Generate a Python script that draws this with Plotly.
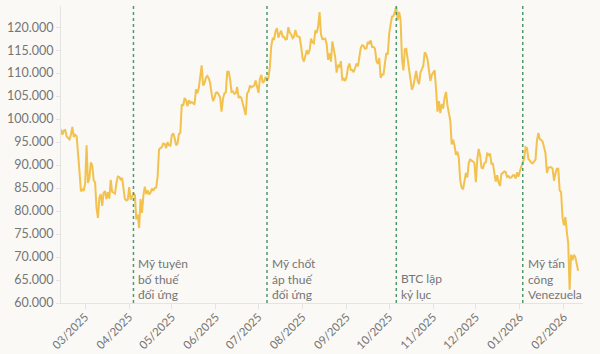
import pandas as pd
import plotly.graph_objects as go

# Daily BTC price (thousand USD), 2025-02-12 .. 2026-02-11
feb25 = [97.8, 96.6, 97.5, 97.6, 96.2, 95.8, 95.6, 96.6, 98.3, 96.1, 96.6, 96.3, 91.4, 88.7, 84.3, 84.7, 84.4]
mar25 = [86.0, 94.3, 86.1, 87.2, 90.6, 89.9, 86.7, 86.2, 80.7, 78.5, 82.9, 83.7, 81.1, 84.0, 84.3, 82.6,
         84.1, 82.7, 86.8, 84.2, 84.0, 83.8, 86.1, 87.5, 87.4, 86.9, 87.2, 84.4, 82.6, 82.3, 82.5]
apr25 = [85.2, 82.5, 83.1, 83.8, 83.5, 78.2, 79.2, 76.3, 82.6, 79.6, 83.4, 85.3, 83.7, 84.5, 83.6, 84.0,
         84.9, 84.4, 85.0, 85.1, 87.5, 93.4, 93.7, 93.9, 94.7, 94.6, 93.7, 95.0, 94.3, 94.2]
may25 = [96.5, 96.9, 95.9, 94.3, 94.7, 96.8, 97.0, 103.2, 102.9, 104.6, 104.1, 102.8, 104.1, 103.5, 103.7, 103.5,
         103.2, 106.5, 105.6, 106.8, 109.7, 111.7, 107.3, 107.8, 109.0, 109.4, 108.9, 107.8, 105.6, 103.9, 104.6]
jun25 = [105.7, 105.8, 105.4, 104.7, 101.6, 104.4, 105.6, 105.8, 110.3, 110.3, 108.7, 105.9, 106.0, 105.5, 105.6,
         107.0, 104.6, 104.9, 104.6, 103.3, 102.1, 100.9, 105.6, 106.0, 107.3, 106.9, 107.1, 107.3, 108.4, 107.1]
jul25 = [105.7, 108.8, 109.6, 107.9, 108.2, 109.2, 108.3, 109.0, 111.3, 115.9, 117.5, 117.4, 119.1, 119.8, 117.7,
         118.6, 119.2, 117.9, 117.9, 117.3, 117.4, 120.0, 118.8, 118.4, 117.6, 117.9, 119.4, 118.1, 117.9, 117.8, 115.8]
aug25 = [113.3, 112.5, 114.2, 115.0, 114.1, 115.0, 117.5, 116.7, 116.5, 119.3, 118.7, 120.2, 123.3, 118.4, 117.4,
         117.5, 117.5, 116.3, 112.9, 114.3, 112.5, 116.9, 115.4, 113.5, 110.1, 111.8, 111.3, 112.6, 108.4, 108.8, 108.3]
sep25 = [109.2, 111.2, 112.1, 110.7, 110.7, 110.2, 111.2, 112.1, 111.5, 113.9, 115.5, 116.1, 115.9, 115.3, 115.4,
         116.8, 116.5, 117.1, 115.7, 115.7, 115.3, 112.7, 112.0, 113.3, 109.0, 109.7, 109.7, 112.1, 114.4, 114.0]
oct25 = [118.6, 120.6, 122.3, 122.4, 123.5, 124.4, 121.5, 123.3, 121.7, 113.2, 110.6, 115.2, 115.3, 113.0, 110.8,
         108.2, 106.4, 107.2, 108.6, 110.5, 108.4, 107.6, 110.1, 111.1, 111.6, 114.5, 114.1, 112.9, 110.1, 108.3, 109.6]
nov25 = [110.1, 110.6, 106.5, 101.6, 103.9, 101.3, 103.3, 102.3, 104.7, 105.9, 103.0, 101.6, 99.7, 94.5, 95.5,
         94.2, 92.2, 92.9, 91.5, 86.6, 85.1, 84.7, 86.8, 88.3, 87.3, 90.5, 91.3, 90.9, 90.8, 90.4]
dec25 = [86.3, 91.3, 93.5, 92.1, 89.4, 89.3, 90.4, 90.6, 92.7, 92.0, 92.5, 90.3, 90.3, 88.2, 86.4, 87.8, 86.2,
         85.5, 88.1, 88.3, 88.6, 88.5, 87.4, 87.6, 87.2, 87.3, 87.8, 87.8, 87.1, 88.4, 87.5]
jan26 = [88.7, 89.9, 90.6, 91.4, 93.9, 93.7, 91.3, 91.0, 90.5, 90.4, 90.8, 91.2, 95.3, 97.0, 95.6, 95.5, 95.1,
         93.6, 92.6, 88.3, 89.4, 89.5, 89.5, 89.2, 86.6, 88.2, 89.2, 89.2, 84.5, 84.1, 78.6]
feb26 = [76.9, 78.7, 75.6, 73.0, 62.9, 70.5, 69.3, 70.5, 70.0, 68.8, 67.0]

start_date = "2025-02-12"
values_k = feb25 + mar25 + apr25 + may25 + jun25 + jul25 + aug25 + sep25 + oct25 + nov25 + dec25 + jan26 + feb26
dates = pd.date_range(start_date, periods=len(values_k), freq="D")
prices = [v * 1000 for v in values_k]

event_dates = ["2025-04-04", "2025-07-07", "2025-10-06", "2026-01-03"]
event_labels = [
    "Mỹ tuyên<br>bố thuế<br>đối ứng",
    "Mỹ chốt<br>áp thuế<br>đối ứng",
    "BTC lập<br>kỷ lục",
    "Mỹ tấn<br>công<br>Venezuela",
]

FONT = "Lato"
GRAY = "#757575"
BG = "#faf9f6"
AXIS = "#e4e4e2"

fig = go.Figure()
fig.add_trace(go.Scatter(x=dates, y=prices, mode="lines",
                         line=dict(color="#f2c14e", width=2), hoverinfo="skip"))

for d in event_dates:
    fig.add_shape(type="line", xref="x", yref="paper", x0=d, x1=d, y0=0, y1=1,
                  line=dict(color="#4f9a6c", width=1.5, dash="dot"))

annotations = []
for d, t in zip(event_dates, event_labels):
    annotations.append(dict(x=d, y=0, xref="x", yref="paper", text=t, showarrow=False,
                            xanchor="left", yanchor="bottom", align="left", xshift=3, yshift=-1,
                            font=dict(family=FONT, size=12, color=GRAY)))

fig.update_layout(
    width=600, height=354,
    margin=dict(l=61, r=17, t=6, b=51),
    paper_bgcolor=BG, plot_bgcolor=BG,
    showlegend=False,
    separators=",.",
    font=dict(family=FONT, size=12, color=GRAY),
    annotations=annotations,
    xaxis=dict(type="date", range=["2025-02-12", "2026-02-14 10:00"], automargin=False,
               tickformat="%m/%Y", dtick="M1", tick0="2025-03-01", tickangle=-45,
               showline=True, linecolor=AXIS, linewidth=1, ticks="outside", ticklen=5,
               tickcolor=AXIS, showgrid=False, zeroline=False, ticklabelstandoff=-3,
               tickfont=dict(family=FONT, size=11.5, color=GRAY)),
    yaxis=dict(range=[60000, 124600], dtick=5000, tick0=60000, tickformat=",d", automargin=False,
               showline=True, linecolor=AXIS, linewidth=1, ticks="outside", ticklen=4,
               tickcolor=AXIS, showgrid=False, zeroline=False,
               tickfont=dict(family=FONT, size=12.5, color=GRAY)),
)

fig.write_html("out.html")
